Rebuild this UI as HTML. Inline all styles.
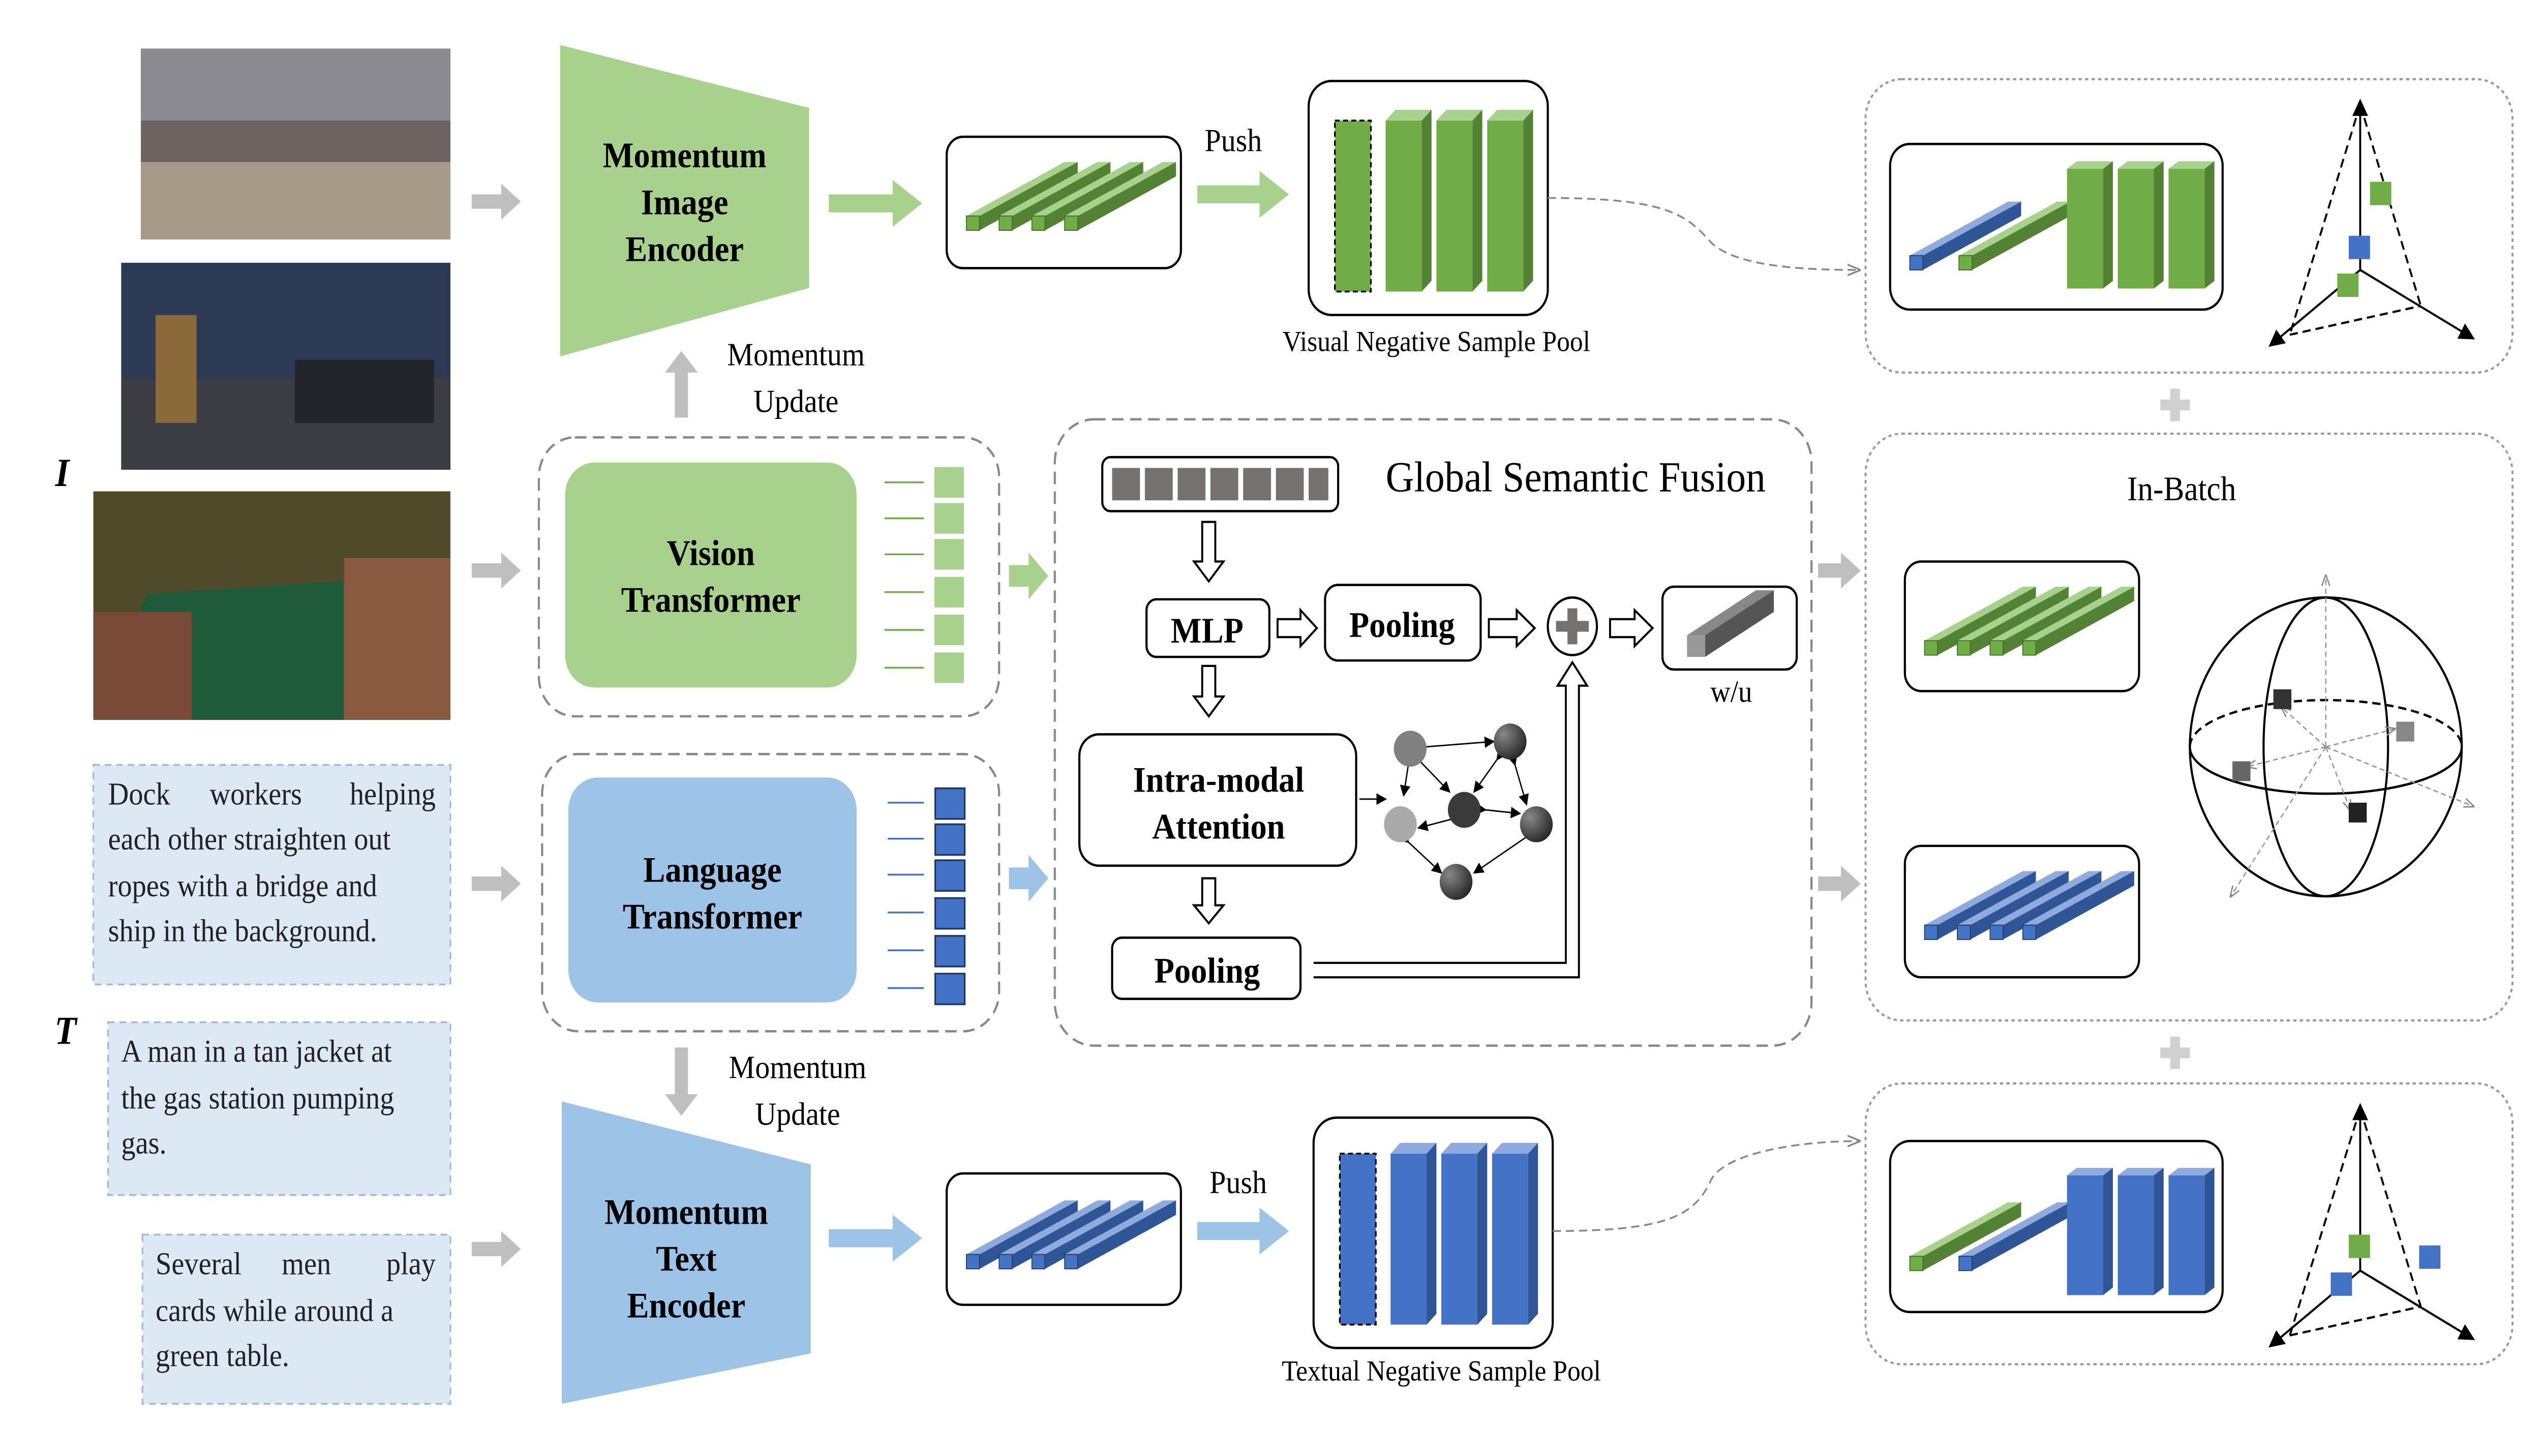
<!DOCTYPE html>
<html><head><meta charset="utf-8"><style>
html,body{margin:0;padding:0;background:#fff;overflow:hidden;width:100vw;height:100vh}
svg{display:block;position:fixed;left:0;top:0;width:100vw;height:100vh}
text{font-family:"Liberation Serif",serif}
.b{font-weight:bold}
</style></head><body>
<svg viewBox="0 0 1552 809" preserveAspectRatio="none" xmlns="http://www.w3.org/2000/svg">
<defs>
<g id="hg"><polygon points="0,0 60,-30 68,-30 8,0" fill="#a9d18e"/><polygon points="8,0 68,-30 68,-22 8,8" fill="#548235"/><rect x="0" y="0" width="8" height="8" fill="#70ad47" stroke="#3a6b22" stroke-width="0.5"/></g>
<g id="hb"><polygon points="0,0 60,-30 68,-30 8,0" fill="#8faadc"/><polygon points="8,0 68,-30 68,-22 8,8" fill="#2f5597"/><rect x="0" y="0" width="8" height="8" fill="#4472c4" stroke="#203864" stroke-width="0.5"/></g>
<g id="vg"><polygon points="0,0 6,-6 28,-6 22,0" fill="#a9d18e"/><polygon points="22,0 28,-6 28,89 22,95" fill="#548235"/><rect x="0" y="0" width="22" height="95" fill="#70ad47"/></g>
<g id="vb"><polygon points="0,0 6,-6 28,-6 22,0" fill="#8faadc"/><polygon points="22,0 28,-6 28,89 22,95" fill="#2f5597"/><rect x="0" y="0" width="22" height="95" fill="#4472c4"/></g>
<marker id="ah" markerWidth="8" markerHeight="8" refX="7" refY="4" orient="auto"><path d="M0,0 L8,4 L0,8 z" fill="#000"/></marker>
<marker id="ahg" markerWidth="8" markerHeight="8" refX="7" refY="4" orient="auto"><path d="M0,1 L8,4 L0,7" fill="none" stroke="#888"/></marker>
<radialGradient id="ball" cx="0.3" cy="0.3" r="0.8"><stop offset="0" stop-color="#888"/><stop offset="1" stop-color="#222"/></radialGradient>
</defs>

<rect x="86" y="27" width="189" height="106" fill="#6b6460"/><rect x="86" y="27" width="189" height="40" fill="#8a8a90"/><rect x="86" y="90" width="189" height="43" fill="#a89a88"/>
<rect x="74" y="146" width="201" height="115" fill="#2d3a55"/><rect x="74" y="210" width="201" height="51" fill="#3b3d42"/><rect x="180" y="200" width="85" height="35" fill="#22252a"/><rect x="95" y="175" width="25" height="60" fill="#8a6a3a"/>
<rect x="57" y="273" width="218" height="127" fill="#4e4a2a"/><polygon points="90,330 260,320 275,400 57,400" fill="#1f5a3a"/><rect x="57" y="340" width="60" height="60" fill="#7a4a38"/><rect x="210" y="310" width="65" height="90" fill="#8a5a40"/>

<text x="38" y="270" font-size="22" font-style="italic" class="b" text-anchor="middle">I</text>
<text x="40" y="580" font-size="22" font-style="italic" class="b" text-anchor="middle">T</text>

<g font-size="17.5" fill="#222">
<rect x="57" y="425" width="218" height="122" fill="#dde8f5" stroke="#9bbbe0" stroke-dasharray="4,3"/>
<text x="66" y="447">Dock</text><text x="128" y="447">workers</text><text x="266" y="447" text-anchor="end">helping</text>
<text x="66" y="472">each other straighten out</text>
<text x="66" y="498">ropes with a bridge and</text>
<text x="66" y="523">ship in the background.</text>
<rect x="66" y="568" width="209" height="96" fill="#dde8f5" stroke="#9bbbe0" stroke-dasharray="4,3"/>
<text x="74" y="590">A man in a tan jacket at</text>
<text x="74" y="616">the gas station pumping</text>
<text x="74" y="641">gas.</text>
<rect x="87" y="686" width="188" height="94" fill="#dde8f5" stroke="#9bbbe0" stroke-dasharray="4,3"/>
<text x="95" y="708">Several</text><text x="172" y="708">men</text><text x="266" y="708" text-anchor="end">play</text>
<text x="95" y="734">cards while around a</text>
<text x="95" y="759">green table.</text>
</g>

<g fill="#bfbfbf">
<polygon points="288,108 306,108 306,102 318,112 306,122 306,116 288,116"/>
<polygon points="288,313 306,313 306,307 318,317 306,327 306,321 288,321"/>
<polygon points="288,487 306,487 306,481 318,491 306,501 306,495 288,495"/>
<polygon points="288,690 306,690 306,684 318,694 306,704 306,698 288,698"/>
<polygon points="1110,313 1124,313 1124,307 1136,317 1124,327 1124,321 1110,321"/>
<polygon points="1110,487 1124,487 1124,481 1136,491 1124,501 1124,495 1110,495"/>
<polygon points="412,232 412,207 406,207 416,195 426,207 420,207 420,232"/>
<polygon points="412,582 412,608 406,608 416,620 426,608 420,608 420,582"/>
</g>

<polygon points="342,25 494,60 494,160 342,198" fill="#a9d18e"/>
<g class="b" font-size="20" text-anchor="middle"><text x="418" y="93">Momentum</text><text x="418" y="119">Image</text><text x="418" y="145">Encoder</text></g>
<polygon points="506,108 545,108 545,100 563,113 545,126 545,118 506,118" fill="#a9d18e"/>
<rect x="578" y="76" width="143" height="73" rx="10" fill="#fff" stroke="#000" stroke-width="1.3"/>
<use href="#hg" x="590" y="120"/><use href="#hg" x="610" y="120"/><use href="#hg" x="630" y="120"/><use href="#hg" x="650" y="120"/>
<text x="753" y="84" font-size="18" text-anchor="middle">Push</text>
<polygon points="731,103 769,103 769,95 787,108 769,121 769,113 731,113" fill="#a9d18e"/>
<rect x="799" y="45" width="146" height="130" rx="14" fill="#fff" stroke="#000" stroke-width="1.3"/>
<rect x="815" y="67" width="22" height="95" fill="#70ad47" stroke="#000" stroke-dasharray="3,2"/>
<use href="#vg" x="846" y="67"/><use href="#vg" x="877" y="67"/><use href="#vg" x="908" y="67"/>
<text x="877" y="195" font-size="16" text-anchor="middle">Visual Negative Sample Pool</text>
<path d="M945,110 C1020,110 1030,120 1045,135 C1060,148 1100,150 1135,150" fill="none" stroke="#888" stroke-dasharray="5,3" marker-end="url(#ahg)"/>

<text x="486" y="203" font-size="18" text-anchor="middle">Momentum</text>
<text x="486" y="229" font-size="18" text-anchor="middle">Update</text>

<rect x="329" y="243" width="281" height="155" rx="22" fill="none" stroke="#888" stroke-dasharray="7,4" stroke-width="1.3"/>
<rect x="345" y="257" width="178" height="125" rx="18" fill="#a9d18e"/>
<g class="b" font-size="20" text-anchor="middle"><text x="434" y="314">Vision</text><text x="434" y="340">Transformer</text></g>
<g stroke="#70ad47" stroke-width="1"><line x1="540" y1="268" x2="564" y2="268"/><line x1="540" y1="288" x2="564" y2="288"/><line x1="540" y1="308" x2="564" y2="308"/><line x1="540" y1="329" x2="564" y2="329"/><line x1="540" y1="350" x2="564" y2="350"/><line x1="540" y1="371" x2="564" y2="371"/></g>
<g fill="#a9d18e" stroke="#fff" stroke-width="1"><rect x="570" y="259" width="19" height="18"/><rect x="570" y="279" width="19" height="18"/><rect x="570" y="299" width="19" height="18"/><rect x="570" y="320" width="19" height="18"/><rect x="570" y="341" width="19" height="18"/><rect x="570" y="362" width="19" height="18"/></g>
<polygon points="616,314 628,314 628,307 640,320 628,333 628,326 616,326" fill="#a9d18e"/>

<rect x="331" y="419" width="279" height="154" rx="22" fill="none" stroke="#888" stroke-dasharray="7,4" stroke-width="1.3"/>
<rect x="347" y="432" width="176" height="125" rx="18" fill="#9dc3e6"/>
<g class="b" font-size="20" text-anchor="middle"><text x="435" y="490">Language</text><text x="435" y="516">Transformer</text></g>
<g stroke="#4472c4"><line x1="542" y1="446" x2="564" y2="446"/><line x1="542" y1="466" x2="564" y2="466"/><line x1="542" y1="486" x2="564" y2="486"/><line x1="542" y1="507" x2="564" y2="507"/><line x1="542" y1="528" x2="564" y2="528"/><line x1="542" y1="549" x2="564" y2="549"/></g>
<g fill="#4472c4" stroke="#203864"><rect x="571" y="438" width="18" height="17"/><rect x="571" y="458" width="18" height="17"/><rect x="571" y="478" width="18" height="17"/><rect x="571" y="499" width="18" height="17"/><rect x="571" y="520" width="18" height="17"/><rect x="571" y="541" width="18" height="17"/></g>
<polygon points="616,482 628,482 628,475 640,488 628,501 628,494 616,494" fill="#9dc3e6"/>

<text x="487" y="599" font-size="18" text-anchor="middle">Momentum</text>
<text x="487" y="625" font-size="18" text-anchor="middle">Update</text>

<polygon points="343,612 495,647 495,752 343,780" fill="#9dc3e6"/>
<g class="b" font-size="20" text-anchor="middle"><text x="419" y="680">Momentum</text><text x="419" y="706">Text</text><text x="419" y="732">Encoder</text></g>
<polygon points="506,683 545,683 545,675 563,688 545,701 545,693 506,693" fill="#9dc3e6"/>
<rect x="578" y="652" width="143" height="73" rx="10" fill="#fff" stroke="#000" stroke-width="1.3"/>
<use href="#hb" x="590" y="697"/><use href="#hb" x="610" y="697"/><use href="#hb" x="630" y="697"/><use href="#hb" x="650" y="697"/>
<text x="756" y="663" font-size="18" text-anchor="middle">Push</text>
<polygon points="731,679 769,679 769,671 787,684 769,697 769,689 731,689" fill="#9dc3e6"/>
<rect x="802" y="621" width="146" height="128" rx="14" fill="#fff" stroke="#000" stroke-width="1.3"/>
<rect x="818" y="641" width="22" height="95" fill="#4472c4" stroke="#000" stroke-dasharray="3,2"/>
<use href="#vb" x="849" y="641"/><use href="#vb" x="880" y="641"/><use href="#vb" x="911" y="641"/>
<text x="880" y="767" font-size="16" text-anchor="middle">Textual Negative Sample Pool</text>
<path d="M948,684 C1020,684 1035,675 1045,655 C1055,640 1100,634 1135,634" fill="none" stroke="#888" stroke-dasharray="5,3" marker-end="url(#ahg)"/>

<rect x="644" y="233" width="462" height="348" rx="24" fill="none" stroke="#888" stroke-dasharray="7,4" stroke-width="1.3"/>
<text x="962" y="273" font-size="24" text-anchor="middle">Global Semantic Fusion</text>
<rect x="673" y="254" width="144" height="30" rx="5" fill="#fff" stroke="#000" stroke-width="1.3"/>
<g fill="#767171"><rect x="679" y="260" width="17" height="18"/><rect x="699" y="260" width="17" height="18"/><rect x="719" y="260" width="17" height="18"/><rect x="739" y="260" width="17" height="18"/><rect x="759" y="260" width="17" height="18"/><rect x="779" y="260" width="17" height="18"/><rect x="799" y="260" width="12" height="18"/></g>
<g fill="#fff" stroke="#000" stroke-width="1.2">
<polygon points="734,290 742,290 742,312 747,312 738,323 729,312 734,312"/>
<polygon points="734,370 742,370 742,387 747,387 738,398 729,387 734,387"/>
<polygon points="734,488 742,488 742,503 747,503 738,513 729,503 734,503"/>
<polygon points="780,344 794,344 794,339 804,349 794,359 794,354 780,354"/>
<polygon points="909,344 926,344 926,339 937,349 926,359 926,354 909,354"/>
<polygon points="983,344 998,344 998,339 1009,349 998,359 998,354 983,354"/>
<polyline points="802,535 956,535 956,381 951,381 960,368 969,381 964,381 964,543 802,543"/>
</g>
<rect x="700" y="333" width="75" height="32" rx="6" fill="#fff" stroke="#000" stroke-width="1.3"/>
<text x="737" y="357" class="b" font-size="20" text-anchor="middle">MLP</text>
<rect x="809" y="325" width="95" height="42" rx="8" fill="#fff" stroke="#000" stroke-width="1.3"/>
<text x="856" y="354" class="b" font-size="20" text-anchor="middle">Pooling</text>
<ellipse cx="960" cy="348" rx="15" ry="16" fill="#fff" stroke="#000" stroke-width="1.3"/>
<rect x="957" y="338" width="6" height="20" fill="#767171"/><rect x="950" y="345" width="20" height="6" fill="#767171"/>
<rect x="1015" y="326" width="82" height="46" rx="7" fill="#fff" stroke="#000" stroke-width="1.3"/>
<polygon points="1030,353 1072,328 1083,328 1041,353" fill="#888"/><polygon points="1041,353 1083,328 1083,340 1041,365" fill="#555"/><rect x="1030" y="353" width="11" height="12" fill="#999"/>
<text x="1057" y="390" font-size="17" text-anchor="middle">w/u</text>
<rect x="659" y="408" width="169" height="73" rx="12" fill="#fff" stroke="#000" stroke-width="1.3"/>
<text x="744" y="440" class="b" font-size="20" text-anchor="middle">Intra-modal</text>
<text x="744" y="466" class="b" font-size="20" text-anchor="middle">Attention</text>
<rect x="679" y="521" width="115" height="34" rx="6" fill="#fff" stroke="#000" stroke-width="1.3"/>
<text x="737" y="546" class="b" font-size="20" text-anchor="middle">Pooling</text>
<g stroke="#000" stroke-width="0.8" marker-end="url(#ah)" marker-start="url(#ah)">
<line x1="870" y1="415" x2="912" y2="412"/>
<line x1="860" y1="424" x2="857" y2="442"/>
<line x1="867" y1="423" x2="885" y2="440"/>
<line x1="914" y1="422" x2="900" y2="440"/>
<line x1="925" y1="425" x2="932" y2="447"/>
<line x1="907" y1="450" x2="928" y2="452"/>
<line x1="887" y1="455" x2="866" y2="460"/>
<line x1="860" y1="468" x2="880" y2="485"/>
<line x1="932" y1="465" x2="900" y2="485"/>
</g>
<line x1="830" y1="444" x2="846" y2="444" stroke="#000" stroke-width="0.8" marker-end="url(#ah)"/>
<circle cx="861" cy="416" r="10" fill="#808080"/>
<circle cx="922" cy="412" r="10" fill="url(#ball)"/>
<circle cx="894" cy="450" r="10" fill="#3a3a3a"/>
<circle cx="855" cy="458" r="10" fill="#aaa"/>
<circle cx="938" cy="458" r="10" fill="url(#ball)"/>
<circle cx="889" cy="490" r="10" fill="url(#ball)"/>

<rect x="1139" y="44" width="395" height="163" rx="22" fill="none" stroke="#999" stroke-dasharray="2,2" stroke-width="1.2"/>
<rect x="1154" y="80" width="203" height="92" rx="12" fill="#fff" stroke="#000" stroke-width="1.3"/>
<use href="#hb" x="1166" y="142"/><use href="#hg" x="1196" y="142"/>
<use href="#vg" x="1262" y="94" transform="scale(1,0.7) translate(0,40)"/>
<use href="#vg" x="1293" y="94" transform="scale(1,0.7) translate(0,40)"/>
<use href="#vg" x="1324" y="94" transform="scale(1,0.7) translate(0,40)"/>
<g stroke="#000" stroke-width="1.2" fill="none">
<line x1="1441" y1="150" x2="1441" y2="56" marker-end="url(#ah)"/>
<line x1="1441" y1="150" x2="1386" y2="192" marker-end="url(#ah)"/>
<line x1="1441" y1="150" x2="1510" y2="188" marker-end="url(#ah)"/>
<line x1="1441" y1="58" x2="1398" y2="186" stroke-dasharray="5,3"/>
<line x1="1441" y1="58" x2="1478" y2="170" stroke-dasharray="5,3"/>
<line x1="1398" y1="186" x2="1478" y2="170" stroke-dasharray="5,3"/>
</g>
<rect x="1447" y="101" width="13" height="13" fill="#70ad47"/><rect x="1434" y="131" width="13" height="13" fill="#4472c4"/><rect x="1427" y="152" width="13" height="13" fill="#70ad47"/>

<g fill="#d0d0d0"><rect x="1325" y="216" width="6" height="18"/><rect x="1319" y="222" width="18" height="6"/><rect x="1325" y="576" width="6" height="18"/><rect x="1319" y="582" width="18" height="6"/></g>

<rect x="1139" y="241" width="395" height="326" rx="22" fill="none" stroke="#999" stroke-dasharray="2,2" stroke-width="1.2"/>
<text x="1332" y="278" font-size="19" text-anchor="middle">In-Batch</text>
<rect x="1163" y="312" width="143" height="72" rx="10" fill="#fff" stroke="#000" stroke-width="1.3"/>
<use href="#hg" x="1175" y="356"/><use href="#hg" x="1195" y="356"/><use href="#hg" x="1215" y="356"/><use href="#hg" x="1235" y="356"/>
<rect x="1163" y="470" width="143" height="73" rx="10" fill="#fff" stroke="#000" stroke-width="1.3"/>
<use href="#hb" x="1175" y="514"/><use href="#hb" x="1195" y="514"/><use href="#hb" x="1215" y="514"/><use href="#hb" x="1235" y="514"/>
<g fill="none" stroke="#000" stroke-width="1.3">
<circle cx="1420" cy="415" r="83"/>
<ellipse cx="1420" cy="415" rx="38" ry="83"/>
<path d="M1337,415 A83,26 0 0 0 1503,415"/>
<path d="M1337,415 A83,26 0 0 1 1503,415" stroke-dasharray="5,3"/>
</g>
<g stroke="#999" stroke-width="0.8" stroke-dasharray="3,2" marker-end="url(#ahg)">
<line x1="1420" y1="415" x2="1420" y2="320"/><line x1="1420" y1="415" x2="1510" y2="448"/><line x1="1420" y1="415" x2="1362" y2="498"/>
<line x1="1420" y1="415" x2="1393" y2="393"/><line x1="1420" y1="415" x2="1462" y2="405"/><line x1="1420" y1="415" x2="1372" y2="426"/><line x1="1420" y1="415" x2="1435" y2="450"/>
</g>
<rect x="1388" y="383" width="11" height="11" fill="#333"/><rect x="1463" y="401" width="11" height="11" fill="#888"/><rect x="1363" y="423" width="11" height="11" fill="#666"/><rect x="1434" y="446" width="11" height="11" fill="#222"/>

<rect x="1139" y="602" width="395" height="156" rx="22" fill="none" stroke="#999" stroke-dasharray="2,2" stroke-width="1.2"/>
<rect x="1154" y="634" width="203" height="95" rx="12" fill="#fff" stroke="#000" stroke-width="1.3"/>
<use href="#hg" x="1166" y="698"/><use href="#hb" x="1196" y="698"/>
<use href="#vb" x="1262" y="650" transform="scale(1,0.7) translate(0,283)"/>
<use href="#vb" x="1293" y="650" transform="scale(1,0.7) translate(0,283)"/>
<use href="#vb" x="1324" y="650" transform="scale(1,0.7) translate(0,283)"/>
<g stroke="#000" stroke-width="1.2" fill="none">
<line x1="1441" y1="706" x2="1441" y2="614" marker-end="url(#ah)"/>
<line x1="1441" y1="706" x2="1386" y2="748" marker-end="url(#ah)"/>
<line x1="1441" y1="706" x2="1510" y2="744" marker-end="url(#ah)"/>
<line x1="1441" y1="616" x2="1398" y2="742" stroke-dasharray="5,3"/>
<line x1="1441" y1="616" x2="1478" y2="726" stroke-dasharray="5,3"/>
<line x1="1398" y1="742" x2="1478" y2="726" stroke-dasharray="5,3"/>
</g>
<rect x="1434" y="686" width="13" height="13" fill="#70ad47"/><rect x="1477" y="692" width="13" height="13" fill="#4472c4"/><rect x="1423" y="707" width="13" height="13" fill="#4472c4"/>
</svg>
</body></html>
